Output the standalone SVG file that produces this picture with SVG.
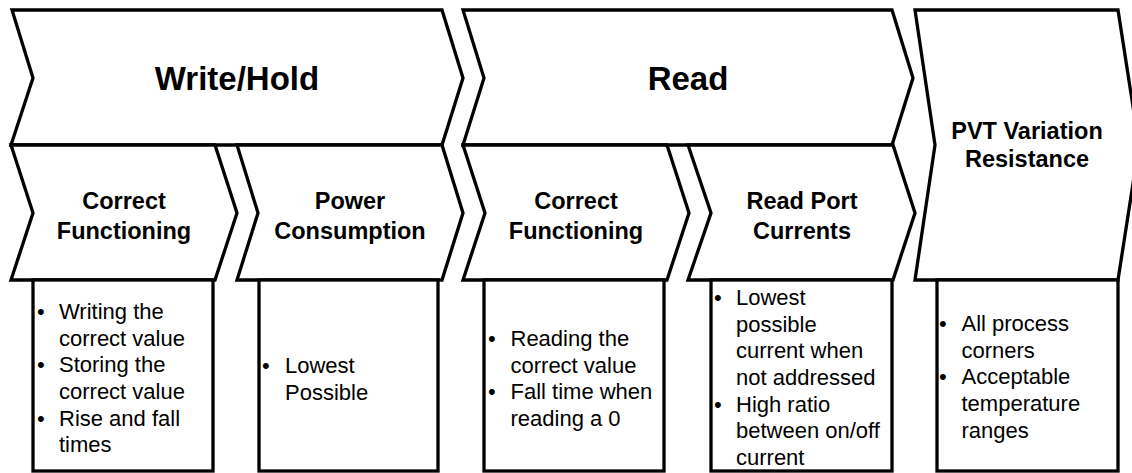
<svg xmlns="http://www.w3.org/2000/svg" width="1132" height="473" viewBox="0 0 1132 473">
<style>
.sh{fill:#fff;stroke:#000;stroke-width:3.3;stroke-linejoin:miter}
.t1{font-family:"Liberation Sans",Arial,sans-serif;font-weight:bold;font-size:33px;text-anchor:middle;fill:#000}
.t2{font-family:"Liberation Sans",Arial,sans-serif;font-weight:bold;font-size:23.5px;text-anchor:middle;fill:#000}
.b{font-family:"Liberation Sans",Arial,sans-serif;font-size:22px;fill:#000}
</style>
<rect width="1132" height="473" fill="#fff"/>
<g id="write-hold">
<polygon class="sh" points="12,10 442,10 463,78 442,145 11,145 33,78"/>
<text class="t1" x="237" y="90">Write/Hold</text>
</g>
<g id="read">
<polygon class="sh" points="463,10 892,10 913,78 892,145 463,145 484,78"/>
<text class="t1" x="688" y="90">Read</text>
</g>
<g id="pvt">
<polygon class="sh" points="915,10 1118,10 1139,145 1118,280 915,280 935,145"/>
<text class="t2" x="1027" y="139">PVT Variation</text>
<text class="t2" x="1027" y="167">Resistance</text>
</g>
<g id="wh-correct">
<polygon class="sh" points="11,145 215,145 237,213 215,280 11,280 33,213"/>
<text class="t2" x="124" y="208.5">Correct</text>
<text class="t2" x="124" y="238.5">Functioning</text>
</g>
<g id="wh-power">
<polygon class="sh" points="237,145 442,145 463,213 442,280 237,280 258,213"/>
<text class="t2" x="350" y="208.5">Power</text>
<text class="t2" x="350" y="238.5">Consumption</text>
</g>
<g id="rd-correct">
<polygon class="sh" points="463,145 667,145 689,213 667,280 463,280 485,213"/>
<text class="t2" x="576" y="208.5">Correct</text>
<text class="t2" x="576" y="238.5">Functioning</text>
</g>
<g id="rd-port">
<polygon class="sh" points="688,145 893,145 915,213 893,280 688,280 711,213"/>
<text class="t2" x="802" y="208.5">Read Port</text>
<text class="t2" x="802" y="238.5">Currents</text>
</g>
<g id="box-wh-correct">
<rect class="sh" x="33" y="280" width="180" height="191"/>
<text class="b" x="37" y="319">•</text>
<text class="b" x="59" y="319">Writing the</text>
<text class="b" x="59" y="345.7">correct value</text>
<text class="b" x="37" y="372.4">•</text>
<text class="b" x="59" y="372.4">Storing the</text>
<text class="b" x="59" y="399">correct value</text>
<text class="b" x="37" y="425.7">•</text>
<text class="b" x="59" y="425.7">Rise and fall</text>
<text class="b" x="59" y="452.4">times</text>
</g>
<g id="box-wh-power">
<rect class="sh" x="259" y="280" width="179" height="191"/>
<text class="b" x="262" y="373">•</text>
<text class="b" x="285" y="373">Lowest</text>
<text class="b" x="285" y="399.7">Possible</text>
</g>
<g id="box-rd-correct">
<rect class="sh" x="484" y="280" width="180" height="191"/>
<text class="b" x="488" y="346">•</text>
<text class="b" x="510.5" y="346">Reading the</text>
<text class="b" x="510.5" y="372.7">correct value</text>
<text class="b" x="488" y="399.4">•</text>
<text class="b" x="510.5" y="399.4">Fall time when</text>
<text class="b" x="510.5" y="426">reading a 0</text>
</g>
<g id="box-rd-port">
<rect class="sh" x="711" y="280" width="181" height="191"/>
<text class="b" x="714" y="305">•</text>
<text class="b" x="736" y="305">Lowest</text>
<text class="b" x="736" y="331.7">possible</text>
<text class="b" x="736" y="358.4">current when</text>
<text class="b" x="736" y="385">not addressed</text>
<text class="b" x="714" y="411.7">•</text>
<text class="b" x="736" y="411.7">High ratio</text>
<text class="b" x="736" y="438.4">between on/off</text>
<text class="b" x="736" y="465">current</text>
</g>
<g id="box-pvt">
<rect class="sh" x="937" y="280" width="181" height="191"/>
<text class="b" x="939" y="331">•</text>
<text class="b" x="961.5" y="331">All process</text>
<text class="b" x="961.5" y="357.7">corners</text>
<text class="b" x="939" y="384.4">•</text>
<text class="b" x="961.5" y="384.4">Acceptable</text>
<text class="b" x="961.5" y="411">temperature</text>
<text class="b" x="961.5" y="437.7">ranges</text>
</g>
<g id="connectors"></g>
</svg>
